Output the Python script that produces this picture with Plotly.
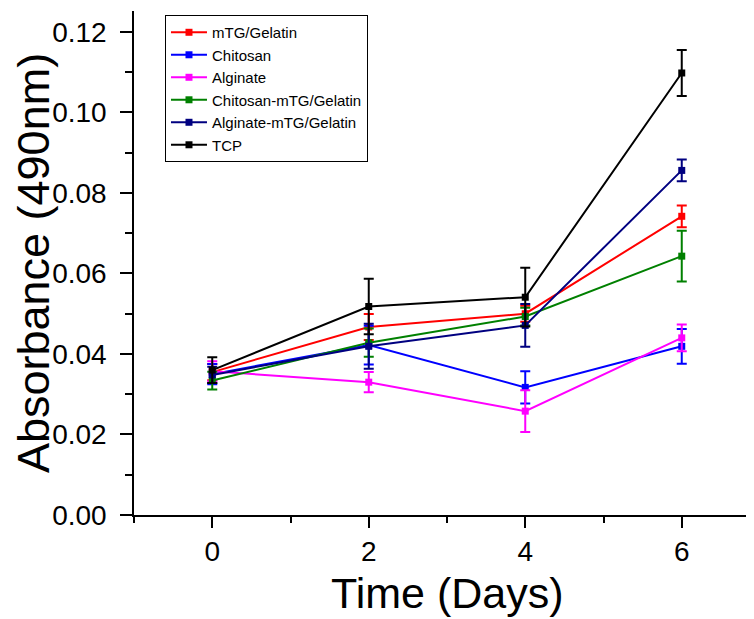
import plotly.graph_objects as go

days = [0, 2, 4, 6]
series_names = ["mTG/Gelatin", "Chitosan", "Alginate", "Chitosan-mTG/Gelatin", "Alginate-mTG/Gelatin", "TCP"]
colors = ["#FF0000", "#0000FF", "#FF00FF", "#008000", "#000080", "#000000"]

mtg_gelatin = [0.0355, 0.0467, 0.0500, 0.0742]
mtg_gelatin_err = [0.0020, 0.0032, 0.0020, 0.0027]
chitosan = [0.0350, 0.0422, 0.0317, 0.0419]
chitosan_err = [0.0025, 0.0048, 0.0040, 0.0043]
alginate = [0.0357, 0.0330, 0.0258, 0.0440]
alginate_err = [0.0025, 0.0025, 0.0052, 0.0033]
chitosan_mtg = [0.0334, 0.0428, 0.0493, 0.0643]
chitosan_mtg_err = [0.0022, 0.0035, 0.0022, 0.0063]
alginate_mtg = [0.0348, 0.0419, 0.0471, 0.0856]
alginate_mtg_err = [0.0020, 0.0056, 0.0053, 0.0027]
tcp = [0.0360, 0.0518, 0.0541, 0.1098]
tcp_err = [0.0032, 0.0069, 0.0073, 0.0057]

x_tick_vals = [0, 2, 4, 6]
y_tick_vals = [0, 0.02, 0.04, 0.06, 0.08, 0.10, 0.12]
x_title = "Time (Days)"
y_title = "Absorbance (490nm)"

values = [mtg_gelatin, chitosan, alginate, chitosan_mtg, alginate_mtg, tcp]
errors = [mtg_gelatin_err, chitosan_err, alginate_err, chitosan_mtg_err, alginate_mtg_err, tcp_err]

fig = go.Figure()
for name, c, v, e in zip(series_names, colors, values, errors):
    fig.add_trace(go.Scatter(
        x=days, y=v, name=name, mode="lines+markers",
        line=dict(color=c, width=2),
        marker=dict(symbol="square", size=7, color=c),
        error_y=dict(type="data", array=e, visible=True, color=c, thickness=2, width=5),
    ))

font_family = "Liberation Sans, Arial, sans-serif"
fig.update_layout(
    width=754, height=619,
    margin=dict(l=126, r=2, t=3, b=112, autoexpand=False),
    paper_bgcolor="white", plot_bgcolor="white",
    font=dict(family=font_family, color="black"),
    showlegend=True,
    legend=dict(
        x=0.0495, y=0.992, xanchor="left", yanchor="top",
        bgcolor="white", bordercolor="black", borderwidth=1,
        font=dict(size=15, family=font_family, color="black"),
        tracegroupgap=0, itemwidth=36,
    ),
    xaxis=dict(
        range=[-1, 7], tickvals=x_tick_vals,
        automargin=False,
        showgrid=False, zeroline=False, showline=True, linecolor="black", linewidth=1.5,
        ticks="outside", ticklen=11, tickwidth=1.5, tickcolor="black",
        tickfont=dict(size=28),
        minor=dict(tickvals=[-1, 1, 3, 5, 7], ticks="outside", ticklen=6, tickwidth=1.5, tickcolor="black"),
    ),
    yaxis=dict(
        range=[0, 0.1252], tickvals=y_tick_vals,
        tickformat=".2f", automargin=False,
        showgrid=False, zeroline=False, showline=True, linecolor="black", linewidth=1.5,
        ticks="outside", ticklen=12, tickwidth=1.5, tickcolor="black",
        tickfont=dict(size=28), ticklabelstandoff=8,
        minor=dict(tickvals=[0.01, 0.03, 0.05, 0.07, 0.09, 0.11], ticks="outside", ticklen=7, tickwidth=1.5, tickcolor="black"),
        title=dict(text=y_title, font=dict(size=45, family=font_family, color="black"), standoff=2),
    ),
    annotations=[
        dict(text=x_title, xref="paper", yref="paper", x=0.5, y=-0.155, xanchor="center", yanchor="middle",
             showarrow=False, font=dict(size=43, family=font_family, color="black")),
    ],
)

fig.write_html("out.html")
